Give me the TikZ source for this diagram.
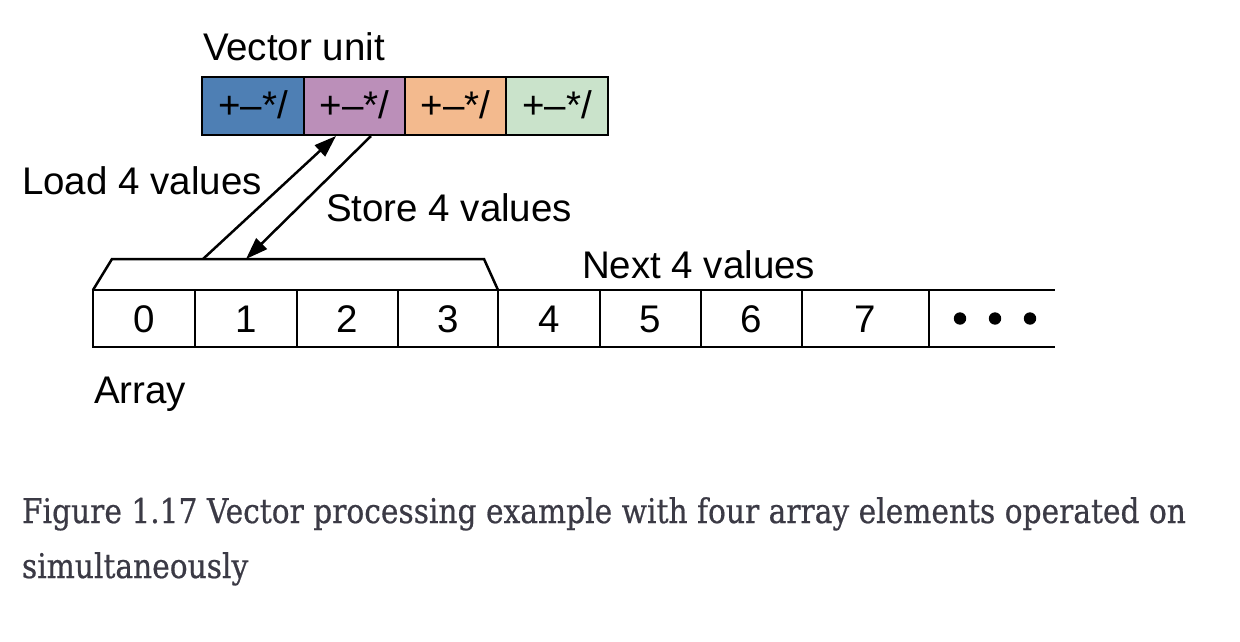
\documentclass[tikz,border=0pt]{standalone}
\usepackage{fontspec}
\setmainfont{Liberation Sans}
\newfontfamily\capfont[FakeBold=0.6]{DejaVu Serif}
\usetikzlibrary{arrows.meta}
\definecolor{vblue}{HTML}{4E7FB4}
\definecolor{vpurple}{HTML}{BB8FB9}
\definecolor{vorange}{HTML}{F3BA8E}
\definecolor{vgreen}{HTML}{CAE3CB}
\definecolor{captxt}{HTML}{3B3A45}
\newlength{\capw}
\newcommand{\capline}{Figure 1.17 Vector processing example with four array elements operated on}
\begin{document}
\settowidth{\capw}{\capfont\fontsize{34}{42}\selectfont \capline}
\pgfmathsetmacro\capscale{1164/\capw}
\begin{tikzpicture}[x=1pt,y=-1pt,
  lbl/.style={inner sep=0pt,outer sep=0pt,anchor=base west,font=\fontsize{38.5}{46}\selectfont},
  vcell/.style={draw=black,line width=2.5pt,minimum height=58pt,inner sep=0pt,outer sep=0pt,anchor=north west},
  acell/.style={draw=black,line width=2.5pt,minimum height=57pt,inner sep=0pt,outer sep=0pt,anchor=north west},
  ctext/.style={inner sep=0pt,outer sep=0pt,anchor=base,font=\fontsize{38.5}{46}\selectfont},
  conn/.style={line width=2.5pt,-{Triangle[length=22pt,width=15pt]}},
  captxtstyle/.style={inner sep=0pt,outer sep=0pt,anchor=base west,text=captxt}
]
\useasboundingbox (0,0) rectangle (1240,642);
\fill[white] (0,0) rectangle (1240,642);

% vector unit
\node[lbl] (vtitle) at (203,61) {Vector unit};
\node[vcell,fill=vblue,minimum width=102pt] (v1) at (202,77) {};
\node[vcell,fill=vpurple,minimum width=101pt] (v2) at (304,77) {};
\node[vcell,fill=vorange,minimum width=101pt] (v3) at (405,77) {};
\node[vcell,fill=vgreen,minimum width=102pt] (v4) at (506,77) {};
\foreach \c/\x in {t1/253,t2/354.5,t3/455.5,t4/557}{
  \node[ctext] (\c) at (\x,118) {+–*/};
}

% array
\draw[line width=2.5pt,line join=miter] (93,290) -- (112,259) -- (484,259) -- (498,290);
\node[acell,minimum width=102pt] (a0) at (93,290) {};
\node[acell,minimum width=102pt] (a1) at (195,290) {};
\node[acell,minimum width=101pt] (a2) at (297,290) {};
\node[acell,minimum width=100pt] (a3) at (398,290) {};
\node[acell,minimum width=102pt] (a4) at (498,290) {};
\node[acell,minimum width=101pt] (a5) at (600,290) {};
\node[acell,minimum width=101pt] (a6) at (701,290) {};
\node[acell,minimum width=127pt] (a7) at (802,290) {};
\draw[line width=2.5pt] (929,290) -- (1055,290);
\draw[line width=2.5pt] (929,347) -- (1055,347);
\foreach \i in {0,...,7}{
  \node[ctext] (d\i) at ([yshift=-42pt]a\i.north) {\i};
}
\fill (960,318.5) circle (6.2pt);
\fill (995,318.5) circle (6.2pt);
\fill (1030,318.5) circle (6.2pt);

% labels
\node[lbl] (load) at (22,194) {Load 4 values};
\node[lbl] (store) at (326,221) {Store 4 values};
\node[lbl] (next) at (582,278) {Next 4 values};
\node[lbl] (arr) at (94,403) {Array};

% connectors
\coordinate (ls) at (203,259);
\coordinate (le) at (336,136);
\coordinate (ss) at (371,136);
\coordinate (se) at (246,259);
\draw[conn] (ls) -- (le);
\draw[conn] (ss) -- (se);

% caption
\node[captxtstyle] (cap1) at (22,523)
  {\scalebox{\capscale}[1]{\capfont\fontsize{34}{42}\selectfont \capline}};
\node[captxtstyle] (cap2) at (22,578)
  {\scalebox{\capscale}[1]{\capfont\fontsize{34}{42}\selectfont simultaneously}};
\end{tikzpicture}
\end{document}
